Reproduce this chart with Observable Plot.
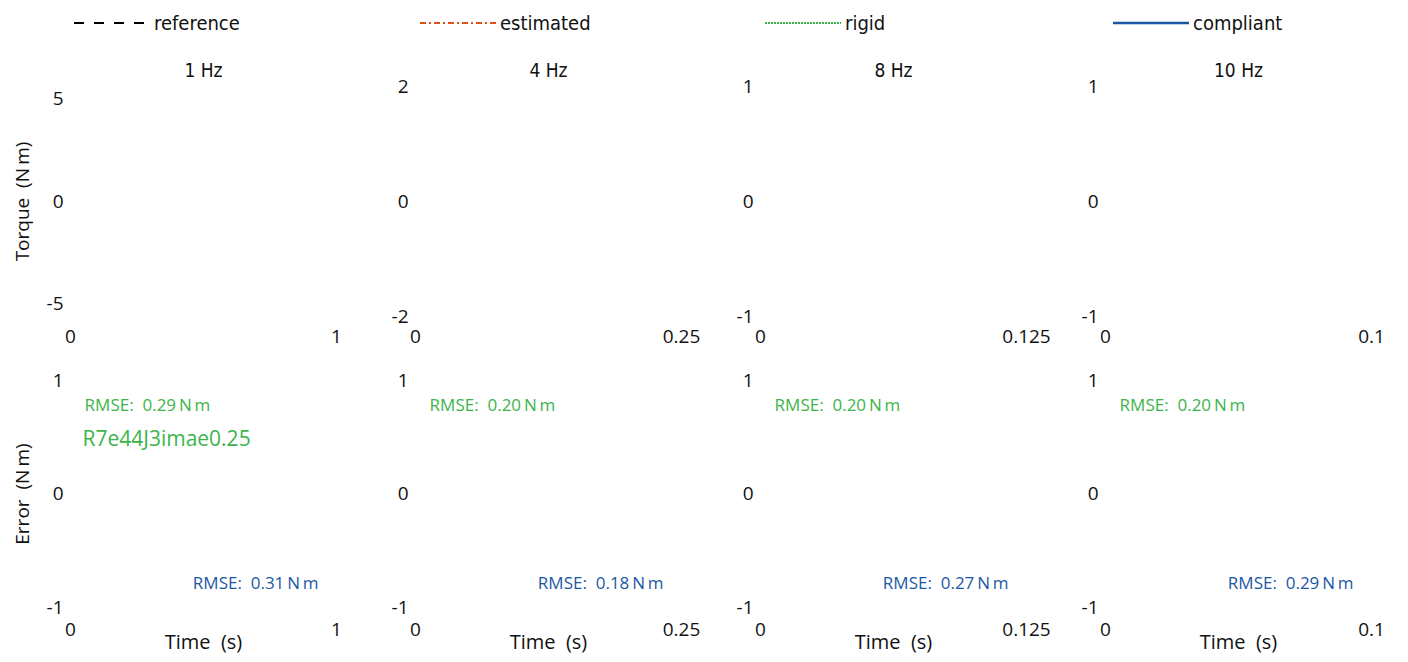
<!DOCTYPE html>
<html>
<head>
<meta charset="utf-8">
<script src="https://cdn.jsdelivr.net/npm/d3@7"></script>
<script src="https://cdn.jsdelivr.net/npm/@observablehq/plot@0.6"></script>
<style>
  html, body { margin: 0; padding: 0; background: #fff; }
  #root { position: relative; width: 1408px; height: 662px; overflow: hidden; }
  .leg { position: absolute; top: 8px; height: 30px; display: flex; align-items: center;
         font-family: "DejaVu Sans Condensed", "DejaVu Sans", sans-serif; font-stretch: condensed;
         font-size: 20px; color: #111; }
  .leg svg { margin-right: 4px; }
  .panel { position: absolute; }
  .panel svg { overflow: visible; }
</style>
</head>
<body>
<div id="root"></div>
<script>
// ---- data ----
const freqLabels = ["1 Hz", "4 Hz", "8 Hz", "10 Hz"];
const timeMax = [1, 0.25, 0.125, 0.1];
const torqueTickMax = [5, 2, 1, 1];
const torqueDomainMax = [5.6, 2, 1, 1];
const errorTicks = [-1, 0, 1];
const rmseRigid = [0.29, 0.20, 0.20, 0.20];
const rmseCompliant = [0.31, 0.18, 0.27, 0.29];
const strayLabel = "R7e44J3imae0.25";
const legendNames = ["reference", "estimated", "rigid", "compliant"];
const legendColors = ["#000000", "#d95319", "#3cb44b", "#1b57a5"];
const legendDash = ["10,10", "6,3,2,3", "2,1", null];

const root = document.getElementById("root");

// ---- legend ----
const legendLeft = [74, 420, 765, 1113];
legendNames.forEach((name, i) => {
  const div = document.createElement("div");
  div.className = "leg";
  div.style.left = legendLeft[i] + "px";
  const dash = legendDash[i] ? `stroke-dasharray="${legendDash[i]}"` : "";
  const sw = i === 3 ? 2.5 : 2;
  div.innerHTML = `<svg width="76" height="10"><line x1="0" x2="76" y1="5" y2="5" stroke="${legendColors[i]}" stroke-width="${sw}" ${dash}/></svg><span>${name}</span>`;
  root.appendChild(div);
});

const green = legendColors[2], blue = legendColors[3];
const condensed = "DejaVu Sans Condensed, DejaVu Sans, sans-serif";
const fmt = d => String(d);

function panel(row, col) {
  const top = row === 0;
  const xm = timeMax[col];
  const yd = top ? torqueDomainMax[col] : 1;
  const yt = top ? [-torqueTickMax[col], 0, torqueTickMax[col]] : errorTicks;
  const marks = [];
  if (top) {
    marks.push(Plot.text([freqLabels[col]], {text: d => d, frameAnchor: "top", lineAnchor: "middle", dy: -16,
      fontSize: 19, fontFamily: condensed}));
    if (col === 0) marks.push(Plot.text(["Torque\u00a0 (N\u2009m)"], {text: d => d, frameAnchor: "left",
      textAnchor: "middle", lineAnchor: "middle", rotate: -90, dx: -48, fontSize: 19}));
  } else {
    marks.push(Plot.text(["Time\u00a0 (s)"], {text: d => d, frameAnchor: "bottom", lineAnchor: "middle", dy: 35, fontSize: 20}));
    if (col === 0) marks.push(Plot.text(["Error\u00a0 (N\u2009m)"], {text: d => d, frameAnchor: "left",
      textAnchor: "middle", lineAnchor: "middle", rotate: -90, dx: -48, fontSize: 19}));
    marks.push(Plot.text([{x: 0.053 * xm, y: 0.78, t: `RMSE:\u00a0 ${rmseRigid[col].toFixed(2)}\u2009N\u2009m`}],
      {x: "x", y: "y", text: "t", textAnchor: "start", fill: green, fontSize: 17}));
    marks.push(Plot.text([{x: 0.46 * xm, y: -0.79, t: `RMSE:\u00a0 ${rmseCompliant[col].toFixed(2)}\u2009N\u2009m`}],
      {x: "x", y: "y", text: "t", textAnchor: "start", fill: blue, fontSize: 17}));
    if (col === 0) marks.push(Plot.text([{x: 0.045 * xm, y: 0.48, t: strayLabel}],
      {x: "x", y: "y", text: "t", textAnchor: "start", fill: green, fontSize: 21}));
  }
  return Plot.plot({
    width: 345,
    height: top ? 296 : 316,
    marginLeft: 70, marginRight: 9,
    marginTop: top ? 36 : 34,
    marginBottom: top ? 30 : 55,
    x: {domain: [0, xm], ticks: [0, xm], tickFormat: fmt, tickSize: 0, tickPadding: top ? 13 : 15, label: null},
    y: {domain: [-yd, yd], ticks: yt, tickFormat: fmt, tickSize: 0, tickPadding: 7, label: null},
    style: {fontFamily: "Open Sans, sans-serif", fontSize: "19px", color: "#111", background: "transparent", overflow: "visible"},
    marks
  });
}

for (let row = 0; row < 2; row++) {
  for (let col = 0; col < 4; col++) {
    const wrap = document.createElement("div");
    wrap.className = "panel";
    wrap.style.left = (col * 345) + "px";
    wrap.style.top = (row === 0 ? 50 : 346) + "px";
    wrap.appendChild(panel(row, col));
    root.appendChild(wrap);
  }
}
</script>
</body>
</html>
